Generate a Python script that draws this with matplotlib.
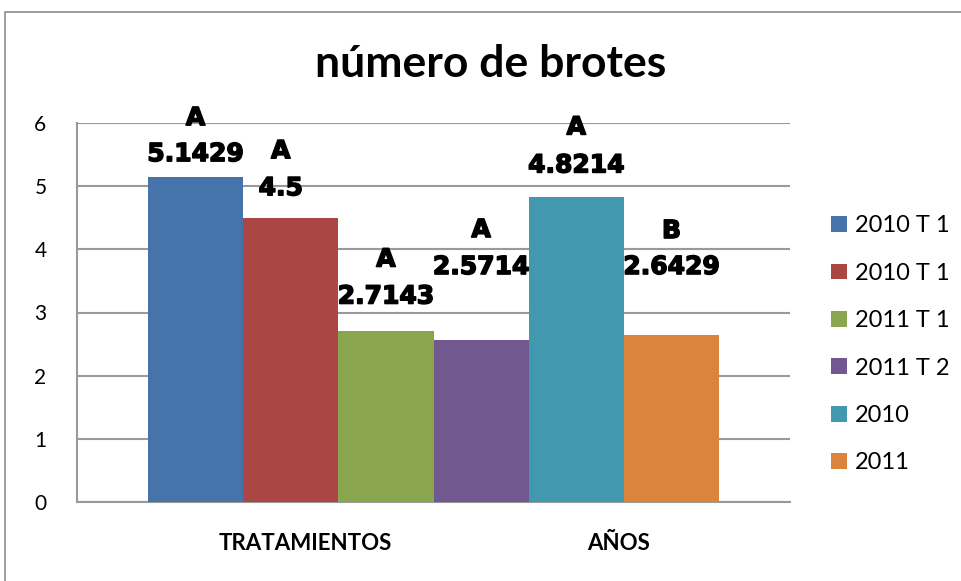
import matplotlib
matplotlib.use("Agg")
import matplotlib.pyplot as plt
from matplotlib.patches import Rectangle, Patch
import matplotlib.patheffects as pe

# ---- data ----
series = ["2010 T 1", "2010 T 1", "2011 T 1", "2011 T 2", "2010", "2011"]
values = [5.1429, 4.5, 2.7143, 2.5714, 4.8214, 2.6429]
value_labels = ["5.1429", "4.5", "2.7143", "2.5714", "4.8214", "2.6429"]
letters = ["A", "A", "A", "A", "A", "B"]
categories = ["TRATAMIENTOS", "AÑOS"]
yticks = [0, 1, 2, 3, 4, 5, 6]

# ---- style ----
colors = ["#4673AA", "#AA4643", "#89A54E", "#71588F", "#4198AF", "#DB843D"]
# label offsets in pixels above bar top (value, letter) and x shift
val_dy = [23, 29.5, 34, 72.5, 32, 68]
let_dy = [59, 66.5, 71, 109.5, 70, 104]
lab_dx = [0, -10, 0, 0, 0, 0]
cat_pos = [1.15, 4.44]

W, H = 961, 581
fig = plt.figure(figsize=(W / 100, H / 100), dpi=100)
fig.patch.set_facecolor("white")

# outer border
fig.patches.append(Rectangle((5 / W, -0.1), 1.2, (H - 12) / H + 0.1,
                             transform=fig.transFigure, fill=False,
                             edgecolor="#8c8c8c", linewidth=1.2))

ax = fig.add_axes([77 / W, (H - 502) / H, (790 - 77) / W, (502 - 123) / H])
x = list(range(len(values)))
ax.bar(x, values, width=1.0, color=colors, zorder=3)
ax.set_xlim(-1.245, 6.245)
ax.set_ylim(0, 6)
ax.set_yticks(yticks)
ax.set_yticklabels([str(t) for t in yticks], fontsize=15, family="Lato")
ax.tick_params(axis="y", length=0, pad=22)
ax.set_xticks([])
ax.grid(axis="y", color="#999999", linewidth=1.5, zorder=0)
for s in ["top", "right"]:
    ax.spines[s].set_visible(False)
ax.spines["left"].set_color("#999999")
ax.spines["left"].set_linewidth(1.5)
ax.spines["bottom"].set_color("#999999")
ax.spines["bottom"].set_linewidth(1.5)

heavy = [pe.withStroke(linewidth=1.1, foreground="black")]
for i, v in enumerate(values):
    ax.annotate(value_labels[i], xy=(i, v), xytext=(lab_dx[i], val_dy[i]),
                textcoords="offset pixels", ha="center", va="center",
                fontsize=18, fontweight="bold", family="DejaVu Sans", zorder=5,
                path_effects=heavy)
    ax.annotate(letters[i], xy=(i, v), xytext=(lab_dx[i], let_dy[i]),
                textcoords="offset pixels", ha="center", va="center",
                fontsize=18, fontweight="bold", family="DejaVu Sans", zorder=5,
                path_effects=heavy)

for c, p in zip(categories, cat_pos):
    ax.text(p, -(544 - 502) / (502 - 123), c, transform=ax.get_xaxis_transform(),
            ha="center", va="center", fontsize=16, fontweight="bold",
            family="Lato")

fig.text(491 / W, 1 - 64 / H, "número de brotes", ha="center", va="center",
         fontsize=32, fontweight="bold", family="Lato")

handles = [Patch(facecolor=c, edgecolor="none") for c in colors]
leg = fig.legend(handles, series, loc="upper left",
                 bbox_to_anchor=(810 / W, 1 - 194 / H), frameon=False,
                 prop={"family": "Lato", "size": 17}, handlelength=0.65,
                 handleheight=0.65, handletextpad=0.35, labelspacing=1.12)

fig.savefig("out.png", dpi=100, facecolor="white")
